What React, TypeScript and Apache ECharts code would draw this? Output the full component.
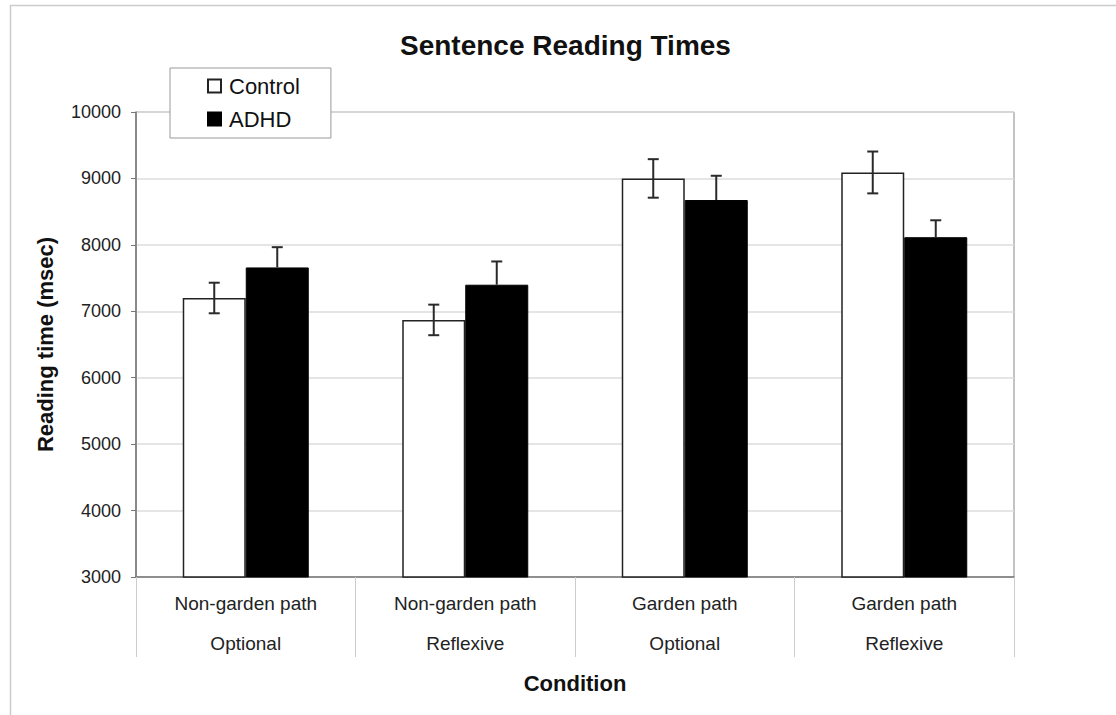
import React, { useEffect, useRef } from "react";
import * as echarts from "echarts";

const categories = [
  "Non-garden path\nOptional",
  "Non-garden path\nReflexive",
  "Garden path\nOptional",
  "Garden path\nReflexive",
];
const seriesNames = ["Control", "ADHD"];
const controlValues = [7200, 6870, 9000, 9090];
const controlErrors = [230, 230, 290, 315];
const adhdValues = [7660, 7400, 8675, 8115];
const adhdErrors = [305, 350, 365, 255];
const yTicks = { min: 3000, max: 10000, interval: 1000 };

const FONT = "'Liberation Sans', Arial, Helvetica, sans-serif";
const BAR_W = 63;

function errorSeries(
  values: number[],
  errors: number[],
  offset: number,
  name: string,
  showLower: boolean
) {
  return {
    type: "custom",
    name: name + " error",
    z: 10,
    silent: true,
    data: values.map((v, i) => [i, v - errors[i], v + errors[i], v]),
    renderItem: (params: any, api: any) => {
      const idx = api.value(0);
      const lo = api.coord([idx, api.value(1)]);
      const hi = api.coord([idx, api.value(2)]);
      const mid = api.coord([idx, api.value(3)]);
      const x = lo[0] + offset;
      const cap = 5.5;
      const style = { stroke: "#2a2a2a", lineWidth: 2 };
      const children: any[] = [
        { type: "line", shape: { x1: x, y1: showLower ? lo[1] : mid[1], x2: x, y2: hi[1] }, style },
        { type: "line", shape: { x1: x - cap, y1: hi[1], x2: x + cap, y2: hi[1] }, style },
      ];
      if (showLower) {
        children.push({ type: "line", shape: { x1: x - cap, y1: lo[1], x2: x + cap, y2: lo[1] }, style });
      }
      return { type: "group", children };
    },
  };
}

export default function App() {
  const ref = useRef<HTMLDivElement>(null);
  useEffect(() => {
    document.body.style.margin = "0";
    if (!ref.current) return;
    const chart = echarts.init(ref.current, null, { renderer: "svg" });
    chart.setOption({
      animation: false,
      backgroundColor: "#ffffff",
      textStyle: { fontFamily: FONT },
      title: {
        text: "Sentence Reading Times",
        left: 400,
        top: 31,
        padding: 0,
        textStyle: { fontFamily: FONT, fontSize: 28, fontWeight: "bold", color: "#111" },
      },
      legend: {
        data: seriesNames,
        orient: "vertical",
        left: 170,
        top: 68,
        padding: [7, 31, 8, 37],
        itemGap: 11,
        itemWidth: 13,
        itemHeight: 13,
        icon: "rect",
        backgroundColor: "#ffffff",
        borderColor: "#999",
        borderWidth: 1,
        textStyle: { fontFamily: FONT, fontSize: 22, color: "#111", lineHeight: 22, padding: [0, 0, 0, 3] },
      },
      grid: {
        left: 136,
        right: 102,
        top: 112,
        bottom: 138,
        show: true,
        borderColor: "#888",
        borderWidth: 1,
        backgroundColor: "transparent",
      },
      xAxis: {
        type: "category",
        data: categories,
        name: "Condition",
        nameLocation: "middle",
        nameGap: 95,
        nameTextStyle: { fontFamily: FONT, fontSize: 22, fontWeight: "bold", color: "#111" },
        axisLine: { lineStyle: { color: "#777", width: 1.5 } },
        axisTick: { show: true, length: 80, lineStyle: { color: "#ccc", width: 1 } },
        axisLabel: {
          fontFamily: FONT,
          fontSize: 19,
          color: "#222",
          lineHeight: 40,
          margin: 6,
          interval: 0,
        },
        splitLine: { show: false },
      },
      yAxis: {
        type: "value",
        min: yTicks.min,
        max: yTicks.max,
        interval: yTicks.interval,
        name: "Reading time (msec)",
        nameLocation: "middle",
        nameGap: 80,
        nameTextStyle: { fontFamily: FONT, fontSize: 22, fontWeight: "bold", color: "#111" },
        axisLine: { show: true, lineStyle: { color: "#777", width: 1.5 } },
        axisTick: { show: true, length: 5, lineStyle: { color: "#777" } },
        axisLabel: {
          fontFamily: FONT,
          fontSize: 18,
          color: "#222",
          margin: 15,
          formatter: (v: number) => String(v),
        },
        splitLine: { show: true, lineStyle: { color: "#ddd", width: 1.5 } },
      },
      series: [
        {
          type: "bar",
          name: seriesNames[0],
          data: controlValues,
          barWidth: BAR_W,
          barGap: "0%",
          itemStyle: { color: "#ffffff", borderColor: "#222", borderWidth: 1.5 },
          z: 3,
        },
        {
          type: "bar",
          name: seriesNames[1],
          data: adhdValues,
          barWidth: BAR_W,
          barGap: "0%",
          itemStyle: { color: "#000000", borderColor: "#000", borderWidth: 1 },
          z: 3,
        },
        errorSeries(controlValues, controlErrors, -BAR_W / 2, seriesNames[0], true),
        errorSeries(adhdValues, adhdErrors, BAR_W / 2, seriesNames[1], false),
      ],
      graphic: [
        { type: "line", shape: { x1: 10, y1: 5.5, x2: 1116, y2: 5.5 }, style: { stroke: "#ccc", lineWidth: 1.5 }, silent: true },
        { type: "line", shape: { x1: 10.5, y1: 5, x2: 10.5, y2: 715 }, style: { stroke: "#ccc", lineWidth: 1.5 }, silent: true },
      ],
    });
    return () => chart.dispose();
  }, []);
  return <div ref={ref} style={{ width: 1116, height: 715 }} />;
}
